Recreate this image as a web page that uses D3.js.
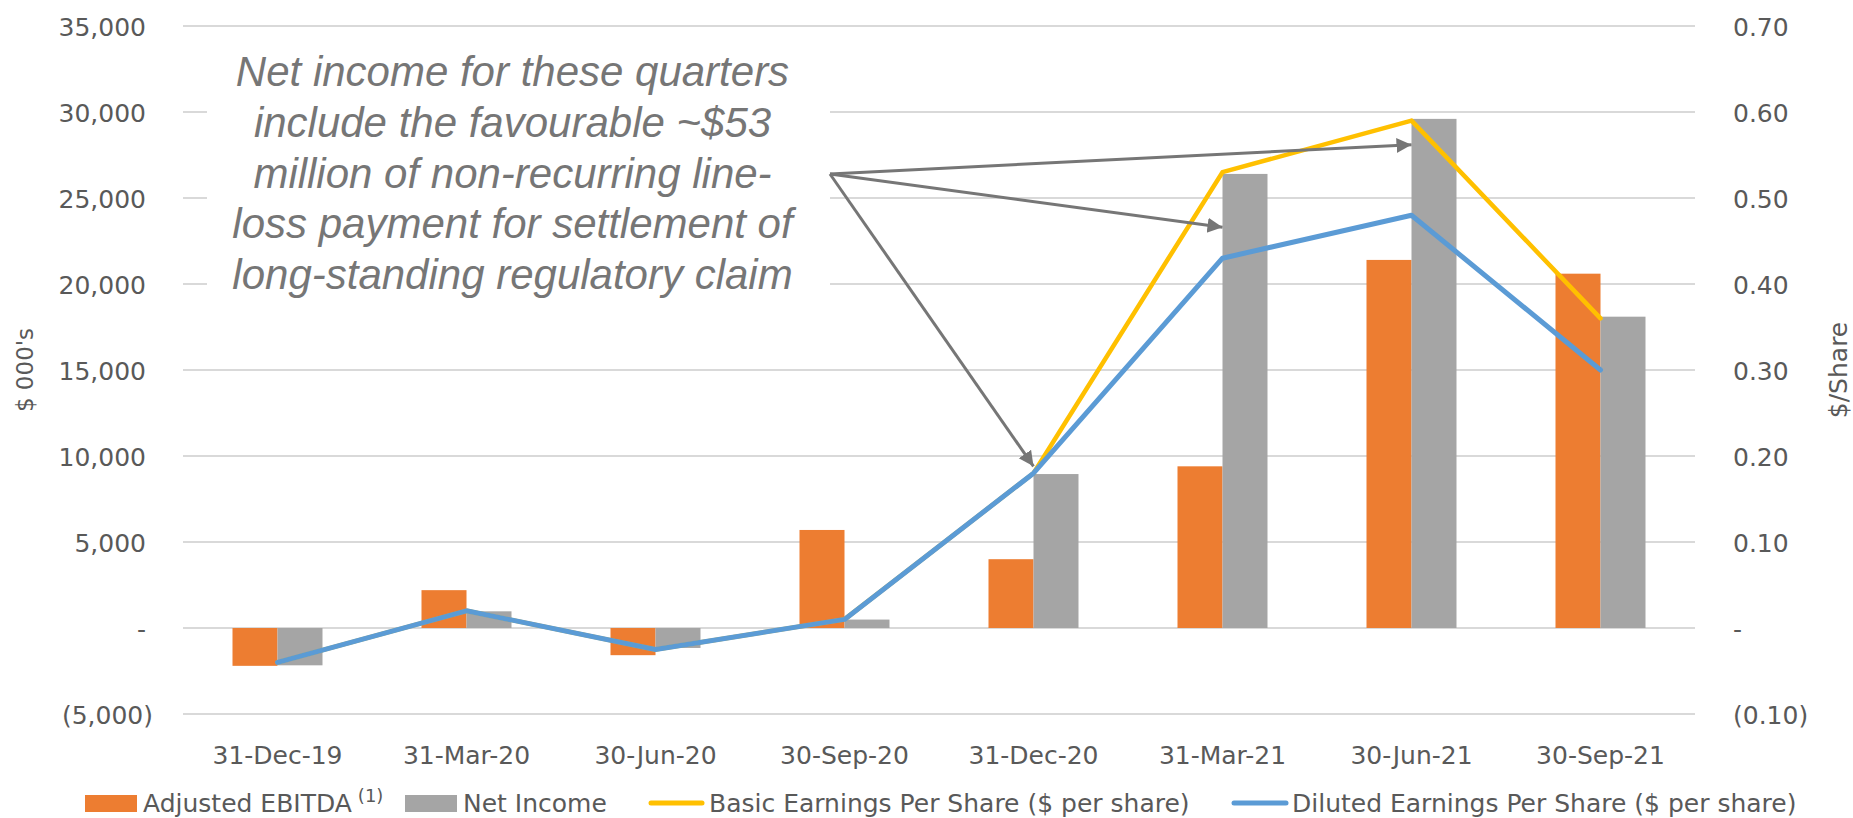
<!DOCTYPE html>
<html>
<head>
<meta charset="utf-8">
<script src="https://cdn.jsdelivr.net/npm/d3@7"></script>
<style>
    body { margin: 0; background: #ffffff; }
    .tick line { display: none; }
    .domain { display: none; }
</style>
</head>
<body>
<script>
// Quarter labels along the x axis
var categories = ["31-Dec-19", "31-Mar-20", "30-Jun-20", "30-Sep-20", "31-Dec-20", "31-Mar-21", "30-Jun-21", "30-Sep-21"];

// Bars, $ 000's (left axis)
var adjustedEbitda = [-2200, 2200, -1580, 5700, 4000, 9400, 21400, 20600];
var netIncome = [-2170, 970, -1160, 490, 8950, 26400, 29600, 18100];

// Lines, $ per share (right axis)
var basicEps = [-0.04, 0.02, -0.025, 0.01, 0.18, 0.53, 0.59, 0.36];
var dilutedEps = [-0.04, 0.02, -0.025, 0.01, 0.18, 0.43, 0.48, 0.30];

// Tick values for both axes
var leftTicks = [-5000, 0, 5000, 10000, 15000, 20000, 25000, 30000, 35000];
var rightTicks = [-0.1, 0, 0.1, 0.2, 0.3, 0.4, 0.5, 0.6, 0.7];

// Callout text and the quarters its arrows point at (value on left axis)
var noteLines = ["Net income for these quarters", "include the favourable ~$53", "million of non-recurring line-", "loss payment for settlement of", "long-standing regulatory claim"];
var noteTargets = ["31-Dec-20", "31-Mar-21", "30-Jun-21"];
var noteTargetValues = [9400, 23300, 28100];

window.onload = drawChart();

function drawChart(){

    var width = 1853,
        height = 818;

    var left = 183, right = 1695, top = 26, bottom = 714;

    var font = "'DejaVu Sans', sans-serif";
    var textColor = "#595959";

    var svg = d3.select("body")
        .append("svg")
        .attr("width", width)
        .attr("height", height);

    // Scales
    var x = d3.scaleBand()
        .domain(categories)
        .range([left, right]);

    var xSub = d3.scaleBand()
        .domain(["ebitda", "net"])
        .range([0, x.bandwidth()])
        .paddingInner(0)
        .paddingOuter(1.1);

    var yLeft = d3.scaleLinear()
        .domain([-5000, 35000])
        .range([bottom, top]);

    var yRight = d3.scaleLinear()
        .domain([-0.1, 0.7])
        .range([bottom, top]);

    // Gridlines
    svg.selectAll(".grid")
        .data(leftTicks)
        .enter()
        .append("line")
        .attr("class", "grid")
        .attr("x1", left)
        .attr("x2", right)
        .attr("y1", function(d){ return yLeft(d); })
        .attr("y2", function(d){ return yLeft(d); })
        .attr("stroke", "#d9d9d9")
        .attr("stroke-width", 2);

    // Number formats with dash for zero and brackets for negatives
    var fmtLeft = function(d){
        if (d === 0) return "-";
        var s = d3.format(",")(Math.abs(d));
        return d < 0 ? "(" + s + ")" : s;
    };
    var fmtRight = function(d){
        if (Math.abs(d) < 1e-9) return "-";
        var s = d3.format(".2f")(Math.abs(d));
        return d < 0 ? "(" + s + ")" : s;
    };

    // Left axis
    var axisL = svg.append("g")
        .attr("transform", "translate(" + left + ",0)")
        .call(d3.axisLeft(yLeft).tickValues(leftTicks).tickSize(0).tickPadding(37).tickFormat(fmtLeft));
    axisL.selectAll("text")
        .attr("font-family", font)
        .attr("font-size", 25)
        .attr("fill", textColor)
        .attr("dy", "0.36em")
        .attr("dx", function(d){ return d < 0 ? 7 : 0; });

    // Right axis
    var axisR = svg.append("g")
        .attr("transform", "translate(" + right + ",0)")
        .call(d3.axisRight(yRight).tickValues(rightTicks).tickSize(0).tickPadding(38).tickFormat(fmtRight));
    axisR.selectAll("text")
        .attr("font-family", font)
        .attr("font-size", 25)
        .attr("fill", textColor)
        .attr("dy", "0.36em");

    // Bottom axis
    var axisB = svg.append("g")
        .attr("transform", "translate(0," + bottom + ")")
        .call(d3.axisBottom(x).tickSize(0).tickPadding(32));
    axisB.selectAll("text")
        .attr("font-family", font)
        .attr("font-size", 25)
        .attr("fill", textColor);
    axisB.attr("font-family", null).attr("font-size", null);
    axisL.attr("font-family", null).attr("font-size", null);
    axisR.attr("font-family", null).attr("font-size", null);

    // Axis titles
    svg.append("text")
        .attr("transform", "translate(25," + (top + bottom) / 2 + ") rotate(-90)")
        .attr("text-anchor", "middle")
        .attr("dominant-baseline", "central")
        .attr("font-family", font)
        .attr("font-size", 23)
        .attr("fill", textColor)
        .text("$ 000's");

    svg.append("text")
        .attr("transform", "translate(1838," + (top + bottom) / 2 + ") rotate(-90)")
        .attr("text-anchor", "middle")
        .attr("dominant-baseline", "central")
        .attr("font-family", font)
        .attr("font-size", 25)
        .attr("fill", textColor)
        .text("$/Share");

    // Bars
    var barSeries = [
        {key: "ebitda", values: adjustedEbitda, color: "#ED7D31"},
        {key: "net", values: netIncome, color: "#A5A5A5"}
    ];

    barSeries.forEach(function(s){
        svg.selectAll(".bar-" + s.key)
            .data(s.values)
            .enter()
            .append("rect")
            .attr("class", "bar-" + s.key)
            .attr("x", function(d, i){ return x(categories[i]) + xSub(s.key); })
            .attr("width", xSub.bandwidth())
            .attr("y", function(d){ return yLeft(Math.max(0, d)); })
            .attr("height", function(d){ return Math.abs(yLeft(d) - yLeft(0)); })
            .attr("fill", s.color);
    });

    // Lines
    var line = d3.line()
        .x(function(d, i){ return x(categories[i]) + x.bandwidth() / 2; })
        .y(function(d){ return yRight(d); });

    svg.append("path")
        .datum(basicEps)
        .attr("d", line)
        .attr("fill", "none")
        .attr("stroke", "#FFC000")
        .attr("stroke-width", 4.5)
        .attr("stroke-linecap", "round")
        .attr("stroke-linejoin", "round");

    svg.append("path")
        .datum(dilutedEps)
        .attr("d", line)
        .attr("fill", "none")
        .attr("stroke", "#5B9BD5")
        .attr("stroke-width", 5)
        .attr("stroke-linecap", "round")
        .attr("stroke-linejoin", "round");

    // Callout box
    var box = {x: 207, y: 40, w: 623, h: 262};
    svg.append("rect")
        .attr("x", box.x)
        .attr("y", box.y)
        .attr("width", box.w)
        .attr("height", box.h)
        .attr("fill", "#ffffff");

    svg.append("g")
        .selectAll("text")
        .data(noteLines)
        .enter()
        .append("text")
        .attr("x", box.x + box.w / 2 - 6)
        .attr("y", function(d, i){ return 86 + i * 50.75; })
        .attr("text-anchor", "middle")
        .attr("font-family", "'Liberation Sans', Arial, sans-serif")
        .attr("font-style", "italic")
        .attr("font-size", 42)
        .attr("fill", "#767676")
        .text(function(d){ return d; });

    // Arrows from the callout to the quarters
    svg.append("defs")
        .append("marker")
        .attr("id", "arrow")
        .attr("markerUnits", "userSpaceOnUse")
        .attr("markerWidth", 16)
        .attr("markerHeight", 16)
        .attr("refX", 15)
        .attr("refY", 7.5)
        .attr("orient", "auto")
        .append("path")
        .attr("d", "M0,0 L15,7.5 L0,15 Z")
        .attr("fill", "#767676");

    var origin = [box.x + box.w, 174];

    svg.selectAll(".arrow")
        .data(noteTargets)
        .enter()
        .append("line")
        .attr("class", "arrow")
        .attr("x1", origin[0])
        .attr("y1", origin[1])
        .attr("x2", function(d){ return x(d) + x.bandwidth() / 2; })
        .attr("y2", function(d, i){ return yLeft(noteTargetValues[i]); })
        .attr("stroke", "#767676")
        .attr("stroke-width", 3)
        .attr("marker-end", "url(#arrow)");

    // Legend
    var legendY = 803;
    var legend = svg.append("g").attr("font-family", font).attr("font-size", 25).attr("fill", textColor);

    legend.append("rect").attr("x", 85).attr("y", legendY - 8).attr("width", 52).attr("height", 17).attr("fill", "#ED7D31");
    var t1 = legend.append("text").attr("x", 143).attr("y", 812).text("Adjusted EBITDA");
    t1.append("tspan").attr("dx", 6).attr("dy", -10).attr("font-size", 18).text("(1)");

    legend.append("rect").attr("x", 405).attr("y", legendY - 8).attr("width", 52).attr("height", 17).attr("fill", "#A5A5A5");
    legend.append("text").attr("x", 463).attr("y", 812).text("Net Income");

    legend.append("line").attr("x1", 651).attr("x2", 702).attr("y1", legendY).attr("y2", legendY)
        .attr("stroke", "#FFC000").attr("stroke-width", 5).attr("stroke-linecap", "round");
    legend.append("text").attr("x", 709).attr("y", 812).text("Basic Earnings Per Share ($ per share)");

    legend.append("line").attr("x1", 1234).attr("x2", 1286).attr("y1", legendY).attr("y2", legendY)
        .attr("stroke", "#5B9BD5").attr("stroke-width", 5).attr("stroke-linecap", "round");
    legend.append("text").attr("x", 1292).attr("y", 812).text("Diluted Earnings Per Share ($ per share)");
}
</script>
</body>
</html>
